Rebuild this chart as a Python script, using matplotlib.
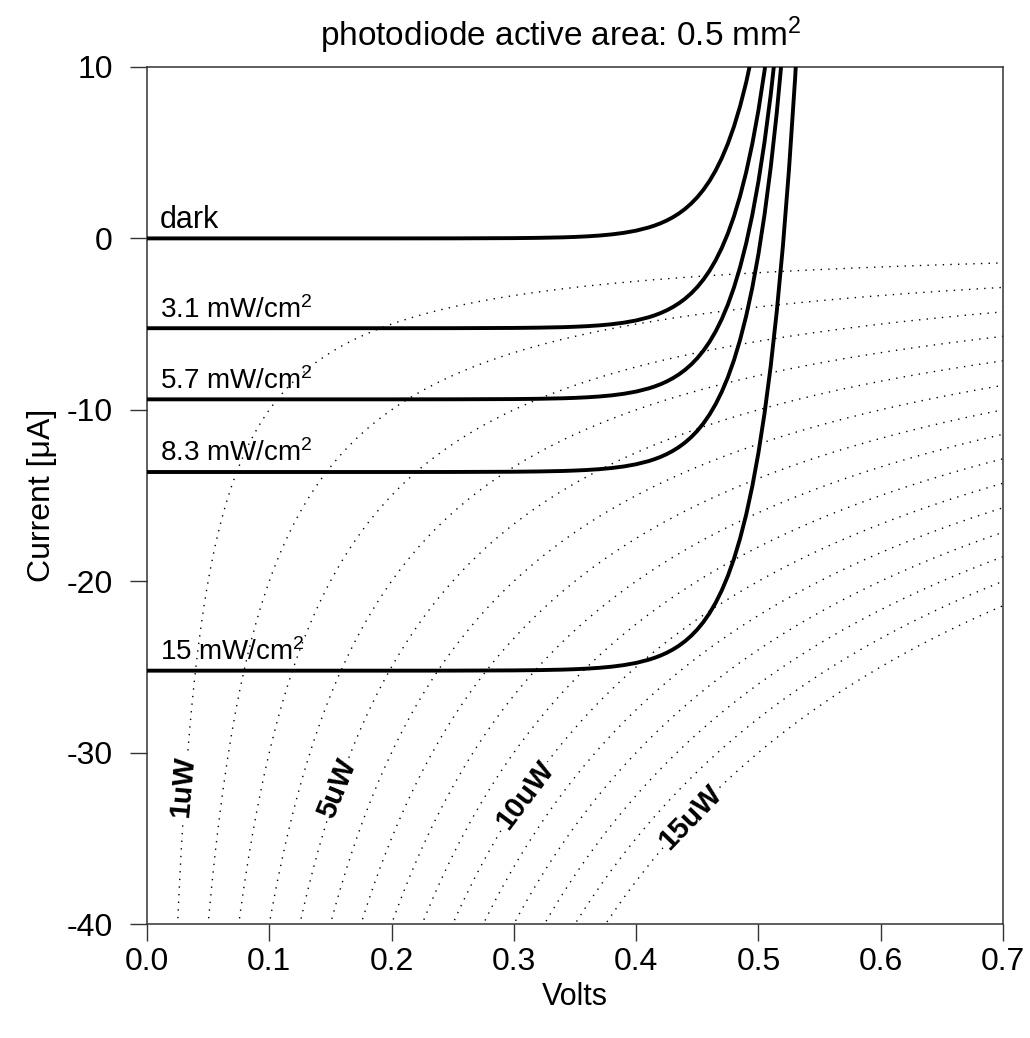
import numpy as np
import matplotlib
matplotlib.use("Agg")
import matplotlib.pyplot as plt

# ---- data ----
# forward (dark) diode current vs voltage, uA
diode_volts = [0.00, 0.20, 0.25, 0.30, 0.32, 0.34, 0.35, 0.36, 0.37, 0.38,
               0.39, 0.40, 0.41, 0.415, 0.42, 0.425, 0.43, 0.435, 0.44, 0.445,
               0.45, 0.455, 0.46, 0.465, 0.47, 0.475, 0.48, 0.485, 0.49, 0.495,
               0.50, 0.505, 0.51, 0.515, 0.52, 0.525, 0.53, 0.535]
diode_current = [0.0, 0.0006, 0.003, 0.016, 0.032, 0.061, 0.086, 0.120, 0.167, 0.233,
                 0.325, 0.453, 0.633, 0.748, 0.883, 1.043, 1.233, 1.456, 1.720, 2.033,
                 2.401, 2.837, 3.351, 3.959, 4.677, 5.525, 6.526, 7.711, 9.109, 10.76,
                 12.71, 15.02, 17.74, 20.96, 24.76, 29.25, 34.56, 40.82]

# illumination levels and their photocurrents (uA)
curve_labels = ["dark", "3.1 mW/cm$^2$", "5.7 mW/cm$^2$", "8.3 mW/cm$^2$", "15 mW/cm$^2$"]
photocurrent = [0.0, 5.24, 9.39, 13.63, 25.22]

# constant-power lines (uW)
power_levels = [1, 2, 3, 4, 5, 6, 7, 8, 9, 10, 11, 12, 13, 14, 15]
power_label_text = ["1uW", "5uW", "10uW", "15uW"]
power_label_volts = [0.0292, 0.1551, 0.3091, 0.444]
power_label_current = [-32.0, -32.1, -32.5, -33.8]
power_label_angles = [85, 68, 53, 46]

x_ticks = [0.0, 0.1, 0.2, 0.3, 0.4, 0.5, 0.6, 0.7]
y_ticks = [10, 0, -10, -20, -30, -40]

# ---- style ----
plt.rcParams["font.family"] = ["Liberation Sans", "DejaVu Sans"]
plt.rcParams["mathtext.fontset"] = "custom"
plt.rcParams["mathtext.rm"] = "Liberation Sans"
plt.rcParams["mathtext.it"] = "Liberation Sans:italic"
plt.rcParams["mathtext.bf"] = "Liberation Sans:bold"
plt.rcParams["axes.unicode_minus"] = False

fig = plt.figure(figsize=(10.30, 10.38), dpi=100)
ax = fig.add_axes([147 / 1030, 1 - 924 / 1038, (1003 - 147) / 1030, (924 - 67) / 1038])

# constant power hyperbolas
for p in power_levels:
    v = np.linspace(p / 41.0, 0.72, 400)
    ax.plot(v, -p / v, color="black", lw=1.0, linestyle=(0, (1, 4.5)), zorder=2)

for txt, vx, iy, ang in zip(power_label_text, power_label_volts, power_label_current,
                            power_label_angles):
    ax.text(vx, iy, txt, rotation=ang, rotation_mode="anchor",
            ha="center", va="center", fontsize=21, fontweight="bold", zorder=3,
            bbox=dict(boxstyle="square,pad=0.05", fc="white", ec="none"))

# diode curves
dv = np.array(diode_volts)
di = np.array(diode_current)
for k, (lab, iph) in enumerate(zip(curve_labels, photocurrent)):
    ax.plot(dv, di - iph, color="black", lw=2.8, solid_capstyle="butt", zorder=4)
    ax.text(0.0106, -iph + 0.62, lab, fontsize=22 if k == 0 else 20,
            ha="left", va="baseline", zorder=5)

ax.set_xlim(0, 0.7)
ax.set_ylim(-40, 10)
ax.set_xticks(x_ticks)
ax.set_xticklabels([f"{t:.1f}" for t in x_ticks])
ax.set_yticks(y_ticks)
ax.set_yticklabels([str(t) for t in y_ticks])
ax.tick_params(direction="out", length=12.5, width=1.0, labelsize=23, color="#333333")
ax.tick_params(axis="y", pad=12)
ax.tick_params(axis="x", pad=4)
for s in ax.spines.values():
    s.set_color("#333333")
    s.set_linewidth(1.1)

ax.set_xlabel("Volts", fontsize=22, labelpad=4)
ax.set_ylabel("Current [\u03bcA]", fontsize=23, labelpad=7)
fig.text(320 / 1030, 1 - 46 / 1038, "photodiode active area: 0.5 mm$^2$",
         fontsize=24, ha="left", va="baseline")

fig.savefig("out.png", dpi=100)
